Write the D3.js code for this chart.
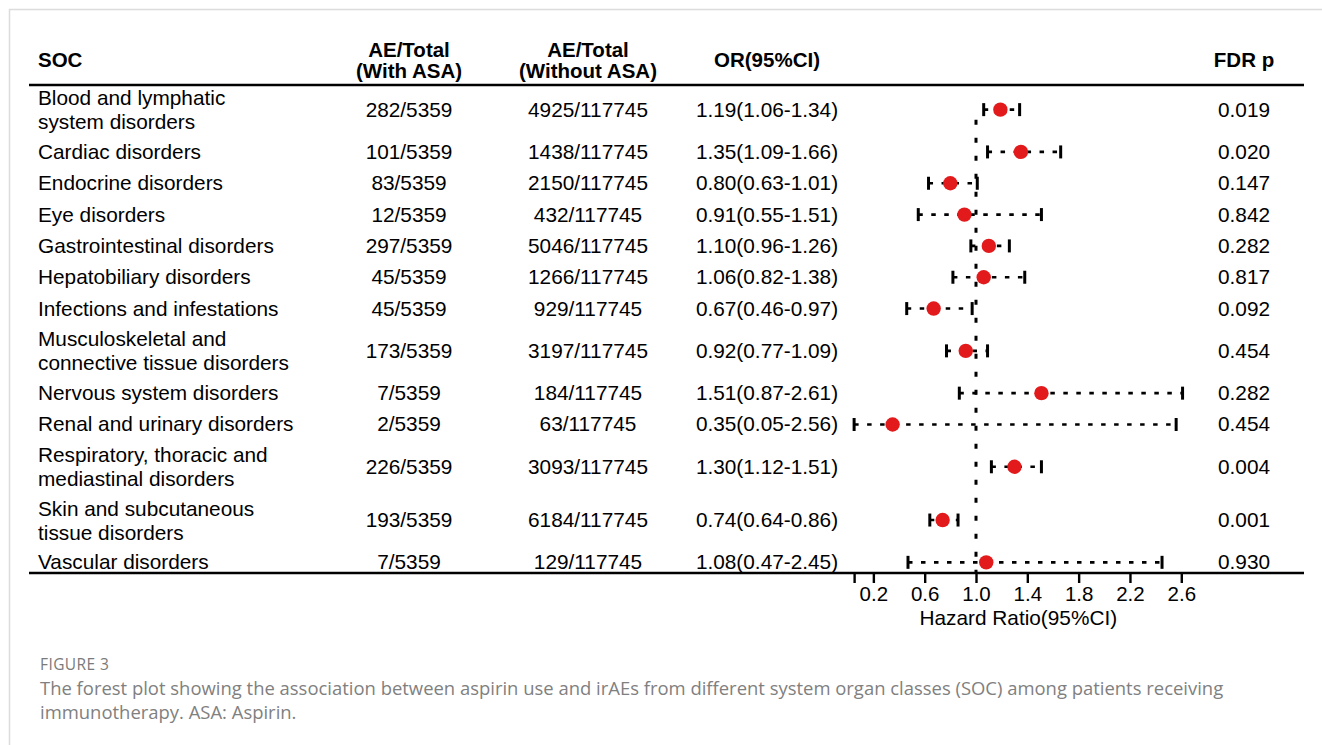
<!DOCTYPE html>
<html><head><meta charset="utf-8">
<script src="https://cdn.jsdelivr.net/npm/d3@7"></script>
<style>html,body{margin:0;padding:0;background:#fff;}svg{display:block;}</style>
</head><body>
<script>
// ---------- data ----------
const socLabels = [
  "Blood and lymphatic\nsystem disorders",
  "Cardiac disorders",
  "Endocrine disorders",
  "Eye disorders",
  "Gastrointestinal disorders",
  "Hepatobiliary disorders",
  "Infections and infestations",
  "Musculoskeletal and\nconnective tissue disorders",
  "Nervous system disorders",
  "Renal and urinary disorders",
  "Respiratory, thoracic and\nmediastinal disorders",
  "Skin and subcutaneous\ntissue disorders",
  "Vascular disorders"
];
const aeWithASA = [282, 101, 83, 12, 297, 45, 45, 173, 7, 2, 226, 193, 7];
const totalWithASA = 5359;
const aeWithoutASA = [4925, 1438, 2150, 432, 5046, 1266, 929, 3197, 184, 63, 3093, 6184, 129];
const totalWithoutASA = 117745;
const orValues = [1.19, 1.35, 0.80, 0.91, 1.10, 1.06, 0.67, 0.92, 1.51, 0.35, 1.30, 0.74, 1.08];
const ciLower  = [1.06, 1.09, 0.63, 0.55, 0.96, 0.82, 0.46, 0.77, 0.87, 0.05, 1.12, 0.64, 0.47];
const ciUpper  = [1.34, 1.66, 1.01, 1.51, 1.26, 1.38, 0.97, 1.09, 2.61, 2.56, 1.51, 0.86, 2.45];
const fdrP = ["0.019","0.020","0.147","0.842","0.282","0.817","0.092","0.454","0.282","0.454","0.004","0.001","0.930"];
const headers = [["SOC"], ["AE/Total","(With ASA)"], ["AE/Total","(Without ASA)"], ["OR(95%CI)"], ["FDR p"]];
const tickValues = [0.05, 0.2, 0.6, 1.0, 1.4, 1.8, 2.2, 2.6];
const tickLabels = ["", "0.2", "0.6", "1.0", "1.4", "1.8", "2.2", "2.6"];
const xLimits = [0.05, 2.61];
const refValue = 1.0;
const xLabel = "Hazard Ratio(95%CI)";
const figTitle = "FIGURE 3";
const captionLines = [
  "The forest plot showing the association between aspirin use and irAEs from different system organ classes (SOC) among patients receiving",
  "immunotherapy. ASA: Aspirin."
];

// ---------- layout ----------
const W = 1322, H = 745;
const tableLeft = 29, tableRight = 1304;
const headerLineY = 85, axisLineY = 573;
const colX = {soc: 38, withA: 409, withoutA: 588, or: 767, fdr: 1244};
const fontBody = 20.8;
const fontFam = "'Liberation Sans', Arial, sans-serif";
const red = "#e31a1c";

const svg = d3.select("body").append("svg").attr("width", W).attr("height", H);

// frame
svg.append("line").attr("x1", 9).attr("x2", W).attr("y1", 9.5).attr("y2", 9.5)
  .attr("stroke", "#dcdcdc").attr("stroke-width", 1.5);
svg.append("line").attr("x1", 9.5).attr("x2", 9.5).attr("y1", 9).attr("y2", H)
  .attr("stroke", "#dcdcdc").attr("stroke-width", 1.5);

// rows: cumulative units -> pixels
const rowUnits = socLabels.map(s => s.includes("\n") ? 1.7 : 1);
const cum = [0];
rowUnits.forEach(u => cum.push(cum[cum.length-1] + u));
const y = d3.scaleLinear().domain([0, cum[cum.length-1]]).range([83, 578]);
const rowCenter = rowUnits.map((u, i) => y(cum[i] + u/2));

// x scale for forest
const x = d3.scaleLinear().domain([0, 1]).range([847.7, 976]);

// header
const hdrX = [colX.soc, colX.withA, colX.withoutA, colX.or, colX.fdr];
const hdrAnchor = ["start", "middle", "middle", "middle", "middle"];
headers.forEach((lines, j) => {
  lines.forEach((t, k) => {
    const yy = lines.length === 1 ? 67 : (k === 0 ? 57 : 78);
    svg.append("text").attr("x", hdrX[j]).attr("y", yy)
      .attr("text-anchor", hdrAnchor[j])
      .attr("font-family", fontFam).attr("font-weight", "bold")
      .attr("font-size", 20.5).attr("fill", "#000").text(t);
  });
});

// horizontal rules
svg.append("line").attr("x1", tableLeft).attr("x2", tableRight)
  .attr("y1", headerLineY).attr("y2", headerLineY).attr("stroke", "#000").attr("stroke-width", 2.6);
svg.append("line").attr("x1", tableLeft).attr("x2", tableRight)
  .attr("y1", axisLineY).attr("y2", axisLineY).attr("stroke", "#000").attr("stroke-width", 2.6);

// body text
const fmt = d3.format(".2f");
const body = svg.append("g").attr("font-family", fontFam).attr("font-size", fontBody).attr("fill", "#000");
socLabels.forEach((lab, i) => {
  const lines = lab.split("\n");
  const cy = rowCenter[i];
  lines.forEach((t, k) => {
    const off = lines.length === 1 ? 0 : (k === 0 ? -11.5 : 12.5);
    body.append("text").attr("x", colX.soc).attr("y", cy + off + 7).text(t);
  });
  body.append("text").attr("x", colX.withA).attr("y", cy + 7).attr("text-anchor", "middle")
    .text(aeWithASA[i] + "/" + totalWithASA);
  body.append("text").attr("x", colX.withoutA).attr("y", cy + 7).attr("text-anchor", "middle")
    .text(aeWithoutASA[i] + "/" + totalWithoutASA);
  body.append("text").attr("x", colX.or).attr("y", cy + 7).attr("text-anchor", "middle")
    .text(fmt(orValues[i]) + "(" + fmt(ciLower[i]) + "-" + fmt(ciUpper[i]) + ")");
  body.append("text").attr("x", colX.fdr).attr("y", cy + 7).attr("text-anchor", "middle")
    .text(fdrP[i]);
});

// reference line
svg.append("line").attr("x1", x(refValue)).attr("x2", x(refValue))
  .attr("y1", rowCenter[0] + 10).attr("y2", axisLineY)
  .attr("stroke", "#000").attr("stroke-width", 3).attr("stroke-dasharray", "5,13");

// CI lines
const forest = svg.append("g");
orValues.forEach((v, i) => {
  const cy = rowCenter[i];
  forest.append("line").attr("x1", x(ciLower[i])).attr("x2", x(ciUpper[i]))
    .attr("y1", cy).attr("y2", cy).attr("stroke", "#000").attr("stroke-width", 2.6)
    .attr("stroke-dasharray", "4.5,8.5");
  [ciLower[i], ciUpper[i]].forEach(c => {
    forest.append("line").attr("x1", x(c)).attr("x2", x(c))
      .attr("y1", cy - 6.5).attr("y2", cy + 6.5).attr("stroke", "#000").attr("stroke-width", 3);
  });
  forest.append("circle").attr("cx", x(v)).attr("cy", cy).attr("r", 7.2).attr("fill", red);
});

// axis
const axis = d3.axisBottom(x).tickValues(tickValues)
  .tickFormat((d, i) => tickLabels[i]).tickSize(10).tickPadding(3);
const gAxis = svg.append("g").attr("transform", `translate(0,${axisLineY})`).call(axis);
gAxis.select(".domain").remove();
gAxis.selectAll(".tick line").attr("stroke", "#000").attr("stroke-width", 2.4);
gAxis.selectAll(".tick text").attr("font-family", fontFam).attr("font-size", 20.5).attr("fill", "#000");

svg.append("text").attr("x", (x(xLimits[0]) + x(xLimits[1])) / 2).attr("y", 625)
  .attr("text-anchor", "middle").attr("font-family", fontFam).attr("font-size", 20.8)
  .attr("fill", "#000").text(xLabel);

// caption
const capFam = "'Open Sans', 'Noto Sans', sans-serif";
svg.append("text").attr("x", 40).attr("y", 670).attr("font-family", capFam)
  .attr("font-size", 15.5).attr("letter-spacing", 0.4).attr("fill", "#7a7a7a").text(figTitle);
const c1 = svg.append("text").attr("x", 40).attr("y", 695).attr("font-family", capFam)
  .attr("font-size", 16).attr("fill", "#808080").text(captionLines[0]);
const w1 = c1.node().getComputedTextLength();
const capSize = 16 * 1184 / w1;
c1.attr("font-size", capSize);
svg.append("text").attr("x", 40).attr("y", 719).attr("font-family", capFam)
  .attr("font-size", capSize).attr("fill", "#808080").text(captionLines[1]);
</script>
</body></html>
